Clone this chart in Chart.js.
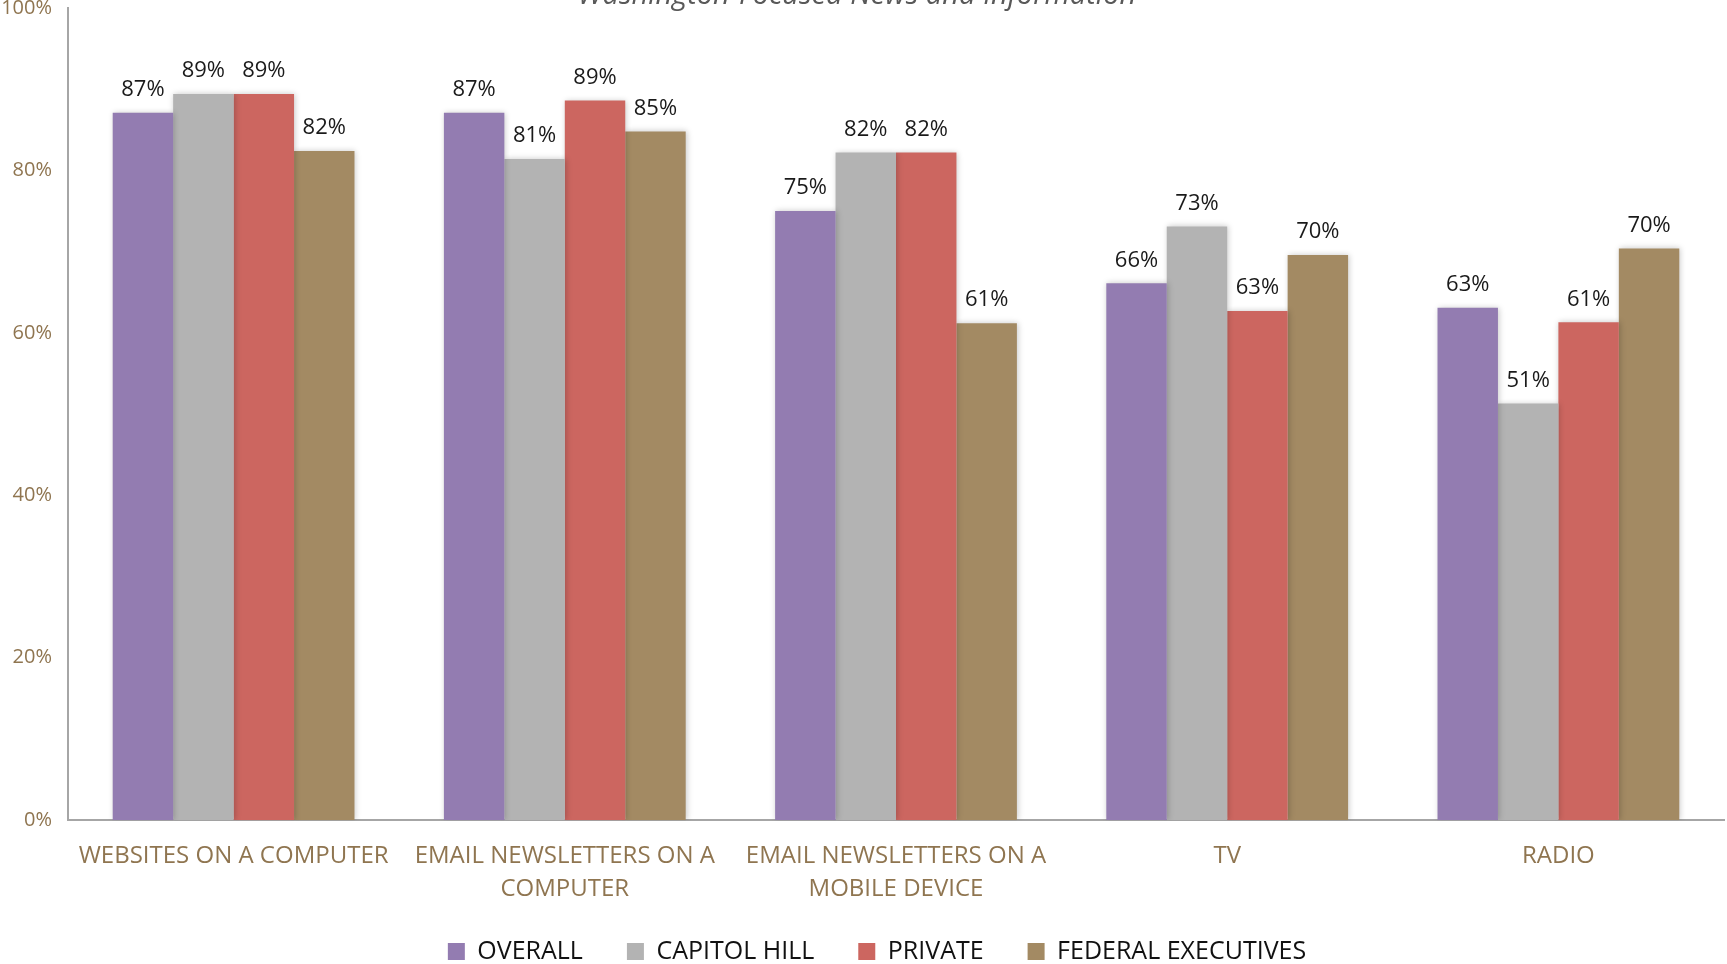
<!DOCTYPE html>
<html>
<head>
<meta charset="utf-8">
<script src="https://cdn.jsdelivr.net/npm/chart.js@4"></script>
<style>
  html, body { margin: 0; padding: 0; background: #ffffff; }
  #wrap { width: 1727px; height: 964px; }
</style>
</head>
<body>
<div id="wrap"><canvas id="bar-chart"></canvas></div>
<script>
const categories = [
  "WEBSITES ON A COMPUTER",
  ["EMAIL NEWSLETTERS ON A", "COMPUTER"],
  ["EMAIL NEWSLETTERS ON A", "MOBILE DEVICE"],
  "TV",
  "RADIO",
];
const seriesNames = ["OVERALL", "CAPITOL HILL", "PRIVATE", "FEDERAL EXECUTIVES"];
const overall = [87.1, 87.1, 75.0, 66.1, 63.1];
const capitolHill = [89.4, 81.4, 82.2, 73.1, 51.3];
const privateSector = [89.4, 88.6, 82.2, 62.7, 61.3];
const federalExecutives = [82.4, 84.8, 61.2, 69.6, 70.4];
const yTicks = [0, 20, 40, 60, 80, 100];
const colors = ["#937cb1", "#b3b3b3", "#cc6660", "#a38a63"];

const titleText = "Washington-Focused News and Information";
const brown = "#8f7550";

// title sits mostly above the canvas edge, like in the original export
const cutTitle = {
  id: "cutTitle",
  afterDraw(chart) {
    const ctx = chart.ctx;
    ctx.save();
    ctx.font = "italic 29px 'Open Sans'";
    ctx.fillStyle = "#595959";
    ctx.textAlign = "center";
    ctx.textBaseline = "alphabetic";
    ctx.fillText(titleText, 857, 4);
    ctx.restore();
  },
};

// soft shadow round the bars
const barShadow = {
  id: "barShadow",
  beforeDatasetsDraw(chart) {
    const ctx = chart.ctx;
    ctx.save();
    ctx.shadowColor = "rgba(0,0,0,0.22)";
    ctx.shadowBlur = 6;
    ctx.shadowOffsetX = 1;
    ctx.shadowOffsetY = 0;
  },
  afterDatasetsDraw(chart) {
    chart.ctx.restore();
  },
};

const valueLabels = {
  id: "valueLabels",
  afterDatasetsDraw(chart) {
    const ctx = chart.ctx;
    ctx.save();
    ctx.font = "22px 'Open Sans'";
    ctx.fillStyle = "#1a1a1a";
    ctx.textAlign = "center";
    ctx.textBaseline = "bottom";
    chart.data.datasets.forEach((ds, i) => {
      chart.getDatasetMeta(i).data.forEach((bar, j) => {
        ctx.fillText(Math.round(ds.data[j]) + "%", bar.x, bar.y - 12);
      });
    });
    ctx.restore();
  },
};

// legend sits a bit right of centre and closer to the axis labels in the original
const legendShift = {
  id: "legendShift",
  afterLayout(chart) {
    chart.legend.left += 15;
    chart.legend.right += 15;
    chart.legend.top -= 30;
    chart.legend.bottom -= 30;
  },
};

const data = {
  labels: categories,
  datasets: [overall, capitolHill, privateSector, federalExecutives].map((vals, i) => ({
    label: seriesNames[i],
    data: vals,
    backgroundColor: colors[i],
    borderWidth: 0,
  })),
};

const config = {
  type: "bar",
  data,
  options: {
    responsive: true,
    maintainAspectRatio: false,
    animation: false,
    layout: { padding: { top: 8, right: 3, left: 0, bottom: -40 } },
    datasets: {
      bar: { barPercentage: 1, categoryPercentage: 0.73 },
    },
    plugins: {
      legend: {
        position: "bottom",
        labels: {
          boxWidth: 17,
          boxHeight: 17,
          color: "#111111",
          padding: 44,
          font: { family: "'Open Sans'", size: 25 },
        },
      },
      tooltip: { enabled: false },
      title: { display: false },
    },
    scales: {
      x: {
        grid: { display: false, drawTicks: false },
        border: { color: "#a6a6a6", width: 2 },
        ticks: {
          color: brown,
          padding: 20,
          maxRotation: 0,
          autoSkip: false,
          font: { family: "'Open Sans'", size: 24, lineHeight: 1.35 },
        },
      },
      y: {
        min: 0,
        max: 100,
        afterFit: (scale) => {
          scale.width = 68;
          scale.paddingTop = 0;
        },
        afterBuildTicks: (scale) => { scale.ticks = yTicks.map((v) => ({ value: v })); },
        grid: { display: false, drawTicks: true, tickLength: 6, tickColor: "#a6a6a6" },
        border: { color: "#a6a6a6", width: 2 },
        ticks: {
          color: brown,
          padding: 10,
          font: { family: "'Open Sans'", size: 20 },
          callback: (v) => v + "%",
        },
      },
    },
  },
  plugins: [barShadow, valueLabels, cutTitle, legendShift],
};

const myChart = new Chart(document.getElementById("bar-chart"), config);
</script>
</body>
</html>
